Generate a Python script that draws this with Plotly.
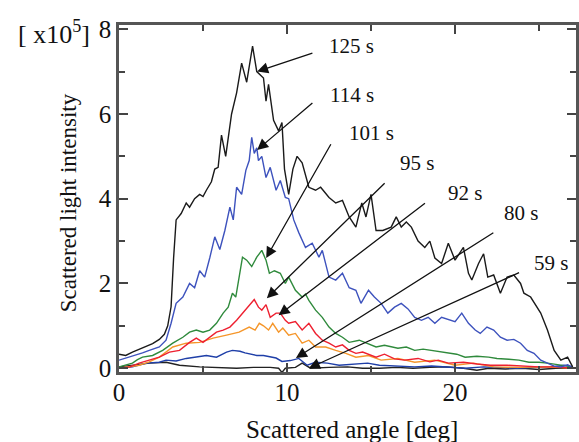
import plotly.graph_objects as go

# ---- data (intensity in units of 1e5) ----
x125 = [0.0,0.4,0.8,1.2,1.6,2.0,2.4,2.7,2.9,3.1,3.25,3.4,3.7,4.0,4.2,4.5,4.8,5.0,5.2,5.5,5.7,5.9,6.1,6.35,6.7,7.0,7.3,7.6,7.95,8.2,8.6,8.75,8.9,9.2,9.5,9.7,9.85,10.1,10.35,10.6,10.9,11.3,11.7,12.0,12.5,12.9,13.3,13.7,14.1,14.45,14.7,15.0,15.3,15.7,16.2,16.5,16.8,17.1,17.4,17.8,18.2,18.5,18.8,19.2,19.6,20.0,20.5,20.8,21.0,21.4,21.7,21.95,22.3,22.7,23.1,23.5,23.9,24.1,24.5,24.8,25.1,25.5,25.9,26.3,26.7,27.0]
y125 = [0.33,0.30,0.38,0.45,0.52,0.58,0.68,0.80,1.00,1.45,2.6,3.5,3.65,3.9,3.8,4.0,4.1,4.05,4.2,4.4,4.7,4.74,5.5,5.0,6.0,6.5,7.2,6.75,7.6,7.0,6.85,6.3,6.7,5.85,5.6,5.8,4.7,4.1,4.7,5.0,4.85,4.27,4.2,4.27,4.03,3.9,3.96,3.57,3.33,3.9,3.57,4.1,3.25,3.25,3.33,3.57,3.33,3.45,3.33,3.0,2.85,3.0,2.6,2.47,2.95,2.55,2.85,2.24,2.08,2.47,2.7,2.15,2.2,1.77,2.15,2.2,2.0,1.77,1.68,1.5,1.3,0.9,0.42,0.19,0.26,0.03]

x114 = [0.0,0.5,1.0,1.4,1.8,2.4,2.8,3.1,3.4,3.8,4.2,4.5,4.8,5.1,5.4,5.7,6.0,6.3,6.6,6.8,7.0,7.3,7.55,7.75,7.9,8.05,8.2,8.3,8.5,8.75,9.0,9.35,9.6,9.9,10.1,10.4,10.7,11.1,11.5,11.9,12.1,12.5,12.9,13.3,13.7,14.1,14.4,14.85,15.2,15.6,16.0,16.4,16.8,17.2,17.6,18.0,18.4,18.8,19.2,19.6,20.0,20.4,20.8,21.2,21.5,21.9,22.3,22.7,23.1,23.5,23.9,24.3,24.7,25.1,25.5,25.9,26.3,26.7,27.0]
y114 = [0.19,0.25,0.30,0.36,0.42,0.50,0.66,1.06,1.53,1.68,2.0,1.9,2.3,2.15,2.6,3.1,2.8,3.25,3.8,3.5,4.27,4.1,4.67,4.9,5.45,5.07,5.2,4.9,5.0,4.5,4.74,4.2,4.43,4.03,4.0,3.5,3.2,2.85,2.95,2.62,2.78,2.15,2.08,2.24,1.9,1.84,1.53,1.84,1.68,1.53,1.3,1.44,1.53,1.4,1.2,1.13,1.2,1.06,1.2,1.15,1.1,1.3,1.06,0.9,0.82,0.97,0.9,0.73,0.66,0.68,0.59,0.42,0.35,0.19,0.12,0.05,0.03,0.08,0.02]

x101 = [0.0,0.4,0.8,1.1,1.4,2.0,2.6,3.2,3.8,4.2,4.6,5.0,5.4,5.8,6.2,6.5,6.75,6.95,7.15,7.35,7.6,7.9,8.2,8.5,8.75,8.95,9.25,9.6,9.9,10.1,10.5,10.9,11.1,11.3,11.7,12.1,12.5,12.9,13.3,13.7,14.3,14.7,15.3,15.8,16.6,17.1,17.6,18.1,18.6,19.1,19.6,20.1,20.6,21.3,22.0,22.5,23.2,23.8,24.4,25.0,25.5,26.2,27.0]
y101 = [0.03,0.08,0.12,0.20,0.26,0.30,0.42,0.59,0.73,0.85,0.90,0.85,0.90,1.06,1.30,1.44,1.77,1.68,2.15,2.62,2.55,2.4,2.62,2.78,2.55,2.24,2.3,2.24,2.0,2.15,1.84,1.68,1.75,1.6,1.37,1.2,0.97,0.82,0.73,0.61,0.66,0.59,0.50,0.54,0.47,0.50,0.42,0.45,0.42,0.38,0.35,0.33,0.26,0.28,0.26,0.23,0.21,0.19,0.14,0.14,0.12,0.07,0.03]

x95 = [0.0,0.65,1.2,1.8,2.4,3.0,3.6,4.2,4.6,5.0,5.4,5.8,6.2,6.6,7.0,7.35,7.75,8.05,8.3,8.5,8.75,9.0,9.35,9.6,9.9,10.1,10.5,10.9,11.3,11.7,12.1,12.5,12.9,13.3,13.7,14.1,14.5,15.3,15.8,16.4,17.0,17.8,18.5,19.0,19.6,20.5,21.3,22.1,23.1,24.1,25.0,26.0,27.0]
y95 = [0.0,0.03,0.12,0.19,0.26,0.38,0.42,0.61,0.71,0.61,0.73,0.85,0.90,0.97,1.13,1.30,1.50,1.62,1.44,1.37,1.50,1.20,1.30,1.30,1.13,1.06,1.10,0.90,1.06,0.82,0.66,0.59,0.50,0.55,0.42,0.35,0.38,0.26,0.33,0.22,0.19,0.23,0.15,0.19,0.12,0.14,0.10,0.07,0.07,0.05,0.03,0.03,0.0]

x92 = [0.0,0.6,1.2,1.8,2.4,3.2,4.0,4.8,5.6,6.4,7.15,7.75,8.1,8.35,8.6,8.9,9.15,9.5,9.75,10.1,10.5,10.9,11.3,11.7,12.3,12.9,13.5,14.1,14.85,15.6,16.6,17.6,18.8,20.0,21.1,22.3,23.8,25.4,27.0]
y92 = [0.0,0.03,0.07,0.15,0.26,0.50,0.59,0.61,0.71,0.78,0.85,0.97,0.90,1.06,1.0,0.90,1.06,0.85,0.95,0.78,0.82,0.59,0.66,0.50,0.50,0.42,0.35,0.26,0.30,0.19,0.23,0.14,0.19,0.07,0.12,0.03,0.02,0.03,0.0]

x80 = [0.0,0.8,1.65,2.4,2.8,3.4,4.0,4.6,5.2,5.8,6.4,6.75,7.2,7.5,8.2,8.6,9.0,9.35,9.7,10.2,10.7,11.2,11.7,12.4,13.1,14.0,14.8,15.5,16.6,17.6,18.6,19.6,20.6,21.7,22.7,23.7,24.7,25.7,26.5,27.0]
y80 = [0.0,0.03,0.12,0.14,0.19,0.17,0.23,0.26,0.30,0.26,0.38,0.42,0.40,0.36,0.30,0.30,0.26,0.24,0.16,0.18,0.23,0.07,0.14,0.12,0.07,0.10,0.12,0.07,0.05,0.03,0.05,0.02,0.0,0.03,0.02,0.0,0.02,0.03,0.07,0.03]

x59 = [0.0,0.8,1.8,2.8,3.6,4.8,6.0,7.0,8.0,9.0,9.5,9.7,9.9,10.5,10.9,11.4,12.5,13.6,14.5,15.5,16.5,17.5,18.5,19.5,20.5,21.3,22.0,23.0,24.0,25.0,26.0,27.0]
y59 = [0.03,0.07,0.12,0.14,0.07,0.03,0.02,0.0,0.02,0.02,0.0,-0.1,0.0,0.02,0.12,0.0,0.02,0.03,0.0,0.0,0.02,0.0,0.02,0.03,0.0,-0.05,0.0,-0.02,0.0,-0.03,0.0,0.0]

series = [
    ("59 s", x59, y59, "#222222"),
    ("80 s", x80, y80, "#1f3fa8"),
    ("92 s", x92, y92, "#f5962a"),
    ("95 s", x95, y95, "#ee2030"),
    ("101 s", x101, y101, "#2f8a3c"),
    ("114 s", x114, y114, "#3d52bd"),
    ("125 s", x125, y125, "#1a1a1a"),
]

# annotation label positions
labels = ["125 s", "114 s", "101 s", "95 s", "92 s", "80 s", "59 s"]
text_x = [13.85, 13.85, 15.0, 17.75, 20.6, 23.95, 25.7]
text_y = [7.6, 6.45, 5.55, 4.85, 4.14, 3.66, 2.48]
tail_x = [11.6, 11.6, 12.66, 15.9, 18.3, 22.37, 23.9]
tail_y = [7.45, 6.29, 5.32, 4.4, 3.92, 3.22, 2.27]
head_x = [8.22, 8.22, 8.76, 8.8, 9.5, 10.53, 11.3]
head_y = [7.0, 5.15, 2.6, 1.65, 1.25, 0.24, 0.0]

FONT = "Liberation Serif, Times New Roman, serif"

fig = go.Figure()
for name, xs, ys, col in series:
    fig.add_trace(go.Scatter(x=xs, y=ys, mode="lines", name=name,
                             line=dict(color=col, width=1.4), showlegend=False))

anns = []
for lab, tx, ty, ax_, ay_, hx, hy in zip(labels, text_x, text_y, tail_x, tail_y, head_x, head_y):
    anns.append(dict(x=hx, y=hy, xref="x", yref="y", ax=ax_, ay=ay_, axref="x", ayref="y",
                     text="", showarrow=True, arrowhead=2, arrowsize=1.7, arrowwidth=1.3,
                     arrowcolor="#111111", standoff=0))
    anns.append(dict(x=tx, y=ty, xref="x", yref="y", text=lab, showarrow=False,
                     font=dict(family=FONT, size=21, color="#111111")))

anns.append(dict(x=-0.058, y=0.977, xref="paper", yref="paper", xanchor="right", yanchor="middle",
                 text="[ x10<sup>5</sup>]", showarrow=False,
                 font=dict(family=FONT, size=26, color="#111111")))
anns.append(dict(x=-0.111, y=0.487, xref="paper", yref="paper", textangle=-90,
                 xanchor="center", yanchor="middle",
                 text="Scattered light intensity", showarrow=False,
                 font=dict(family=FONT, size=23, color="#111111")))
anns.append(dict(x=0.509, y=-0.167, xref="paper", yref="paper",
                 xanchor="center", yanchor="middle",
                 text="Scattered angle [deg]", showarrow=False,
                 font=dict(family=FONT, size=25, color="#111111")))

fig.update_layout(
    width=579, height=442,
    margin=dict(l=119, r=0, t=25, b=70),
    paper_bgcolor="white", plot_bgcolor="white",
    font=dict(family=FONT, size=23, color="#111111"),
    annotations=anns,
)
fig.update_xaxes(range=[0, 27.2], tickmode="array", tickvals=[0, 10, 20], ticktext=["0", "10", "20"],
                 ticks="inside", ticklen=9, tickwidth=1.5, tickcolor="#444",
                 minor=dict(tickvals=[5, 15, 25], ticks="inside", ticklen=6, tickcolor="#444", tickwidth=1.5),
                 showline=True, linecolor="#555", linewidth=2.5, mirror="ticks",
                 showgrid=False, zeroline=False, ticklabelstandoff=-4,
                 tickfont=dict(family=FONT, size=25, color="#111111"))
fig.update_yaxes(range=[-0.09, 8.1], tickmode="array", tickvals=[0, 2, 4, 6, 8],
                 ticks="inside", ticklen=9, tickwidth=1.5, tickcolor="#444",
                 minor=dict(tickvals=[1, 3, 5, 7], ticks="inside", ticklen=6, tickcolor="#444", tickwidth=1.5),
                 showline=True, linecolor="#555", linewidth=2.5, mirror="ticks",
                 showgrid=False, zeroline=False,
                 tickfont=dict(family=FONT, size=25, color="#111111"))

fig.write_html("out.html", config={"displayModeBar": False},
               post_script="document.body.style.margin='0px';document.body.style.overflow='hidden';")
